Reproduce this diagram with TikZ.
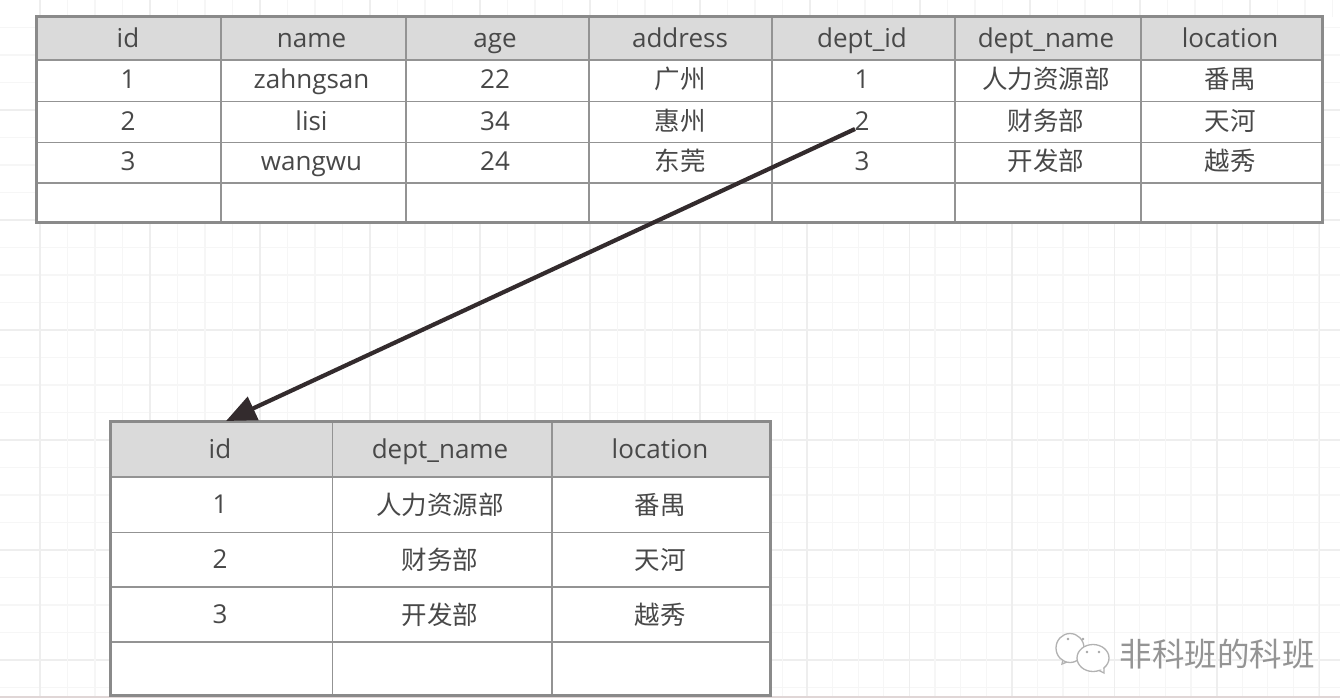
\documentclass[tikz,border=0pt]{standalone}
\usepackage{fontspec}
\setmainfont{Open Sans}
\newfontfamily\cjk{Noto Sans CJK SC}
\usetikzlibrary{arrows.meta,calc}
\definecolor{inkc}{HTML}{484848}
\definecolor{rulec}{HTML}{939393}
\definecolor{framec}{HTML}{8A8A8A}
\definecolor{headc}{HTML}{DADADA}
\definecolor{gridmin}{HTML}{F6F6F6}
\definecolor{gridmaj}{HTML}{EEEEEE}
\definecolor{arrowc}{HTML}{332B2D}
\definecolor{edgec}{HTML}{E0D6D6}
\tikzset{
  cell/.style={anchor=base,inner sep=0pt,text=inkc,font=\fontsize{26}{30}\selectfont},
  cjkcell/.style={cell,font=\fontsize{25.5}{30}\selectfont\cjk},
  inner rule/.style={draw=rulec,line width=1.8pt},
  frame rule/.style={draw=framec,line width=3pt},
  head fill/.style={fill=headc},
  minor grid/.style={draw=gridmin,line width=1.2pt},
  major grid/.style={draw=gridmaj,line width=1.5pt},
  link/.style={draw=arrowc,line width=4.2pt,-{Triangle[length=30pt,width=25pt]}},
  mark text/.style={anchor=center,inner sep=0pt,font=\fontsize{32.5}{36}\selectfont\cjk},
}
\begin{document}
\begin{tikzpicture}[x=1pt,y=-1pt]
\useasboundingbox (0,0) rectangle (1340,698);
\fill[white] (0,0) rectangle (1340,698);
% background grid
\foreach \y in {27.5,55,...,690}{\draw[minor grid] (0,\y) -- (1340,\y);}
\foreach \y in {110,220,...,690}{\draw[major grid] (0,\y) -- (1340,\y);}
\foreach \x in {40,67.5,...,790}{\draw[minor grid] (\x,0) -- (\x,698);}
\foreach \x in {40,150,...,790}{\draw[major grid] (\x,0) -- (\x,698);}
\foreach \x in {807,832.6,...,1340}{\draw[minor grid] (\x,222) -- (\x,698);}
\foreach \x in {807,909.5,...,1340}{\draw[major grid] (\x,222) -- (\x,698);}
\foreach \x in {810,837.5,...,1340}{\draw[minor grid] (\x,0) -- (\x,17);}
\foreach \x in {810,920,...,1340}{\draw[major grid] (\x,0) -- (\x,17);}
\draw[draw=edgec,line width=2.5pt] (0,697) -- (1340,697);

% table 1
\fill[white] (36,17) rectangle (1322,222);
\fill[head fill] (36,17) rectangle (1322,60);
\foreach \y in {60,101.5,142.5,183}{\draw[inner rule] (36,\y) -- (1322,\y);}
\foreach \x in {221,406,589,772,955,1141}{\draw[inner rule] (\x,17) -- (\x,222);}
\draw[frame rule] (36,17) rectangle (1322,222);

\node[cell] (a00) at (128,48) {id};
\node[cell] (a01) at (311.5,48) {name};
\node[cell] (a02) at (495,48) {age};
\node[cell] (a03) at (680,48) {address};
\node[cell] (a04) at (862,48) {dept\_id};
\node[cell] (a05) at (1046,48) {dept\_name};
\node[cell] (a06) at (1230,48) {location};
\node[cell] (a10) at (128,89) {1};
\node[cell] (a11) at (311.5,89) {zahngsan};
\node[cell] (a12) at (495,89) {22};
\node[cjkcell] (a13) at (680,89) {广州};
\node[cell] (a14) at (862,89) {1};
\node[cjkcell] (a15) at (1046,89) {人力资源部};
\node[cjkcell] (a16) at (1230,89) {番禺};
\node[cell] (a20) at (128,130) {2};
\node[cell] (a21) at (311.5,130) {lisi};
\node[cell] (a22) at (495,130) {34};
\node[cjkcell] (a23) at (680,130) {惠州};
\node[cell] (a24) at (862,130) {2};
\node[cjkcell] (a25) at (1046,130) {财务部};
\node[cjkcell] (a26) at (1230,130) {天河};
\node[cell] (a30) at (128,170.5) {3};
\node[cell] (a31) at (311.5,170.5) {wangwu};
\node[cell] (a32) at (495,170.5) {24};
\node[cjkcell] (a33) at (680,170.5) {东莞};
\node[cell] (a34) at (862,170.5) {3};
\node[cjkcell] (a35) at (1046,170.5) {开发部};
\node[cjkcell] (a36) at (1230,170.5) {越秀};

% table 2
\fill[white] (110.5,421) rectangle (770,695);
\fill[head fill] (110.5,421) rectangle (770,477);
\foreach \y in {477,532.5,587,642}{\draw[inner rule] (110.5,\y) -- (770,\y);}
\foreach \x in {332.5,552}{\draw[inner rule] (\x,421) -- (\x,695);}
\draw[frame rule] (110.5,421) rectangle (770,695);

\node[cell] (b00) at (220,458) {id};
\node[cell] (b01) at (440,458) {dept\_name};
\node[cell] (b02) at (660,458) {location};
\node[cell] (b10) at (220,513) {1};
\node[cjkcell] (b11) at (440,514) {人力资源部};
\node[cjkcell] (b12) at (660,514) {番禺};
\node[cell] (b20) at (220,568) {2};
\node[cjkcell] (b21) at (440,569) {财务部};
\node[cjkcell] (b22) at (660,569) {天河};
\node[cell] (b30) at (220,623) {3};
\node[cjkcell] (b31) at (440,624) {开发部};
\node[cjkcell] (b32) at (660,624) {越秀};

% connector
\coordinate (linkfrom) at ($(a24.base)+(-7,-1)$);
\coordinate (linkto) at ($(b00.base)+(6,-37)$);
\draw[link] (linkfrom) -- (linkto);

% watermark
\node[mark text,text=white] (markshadow) at (1218,655) {非科班的科班};
\node[mark text,text=black!42] (marktext) at (1217,654) {非科班的科班};
\begin{scope}[draw=black!30,line width=1.3pt,fill=white]
\filldraw (1062,664) -- (1072,660) -- (1064,655) -- cycle;
\filldraw (1070,648) ellipse[x radius=14,y radius=14.5];
\filldraw (1104,673) -- (1096,669) -- (1104,665) -- cycle;
\filldraw (1093,658) ellipse[x radius=16,y radius=13.5];
\fill[white,draw=none] (1098,669) -- (1103,670) -- (1103,664) -- cycle;
\end{scope}
\foreach \x/\y in {1068/639,1083/639,1087/652,1099/652}{\fill[black!35] (\x,\y) circle[radius=1.4];}
\end{tikzpicture}
\end{document}
